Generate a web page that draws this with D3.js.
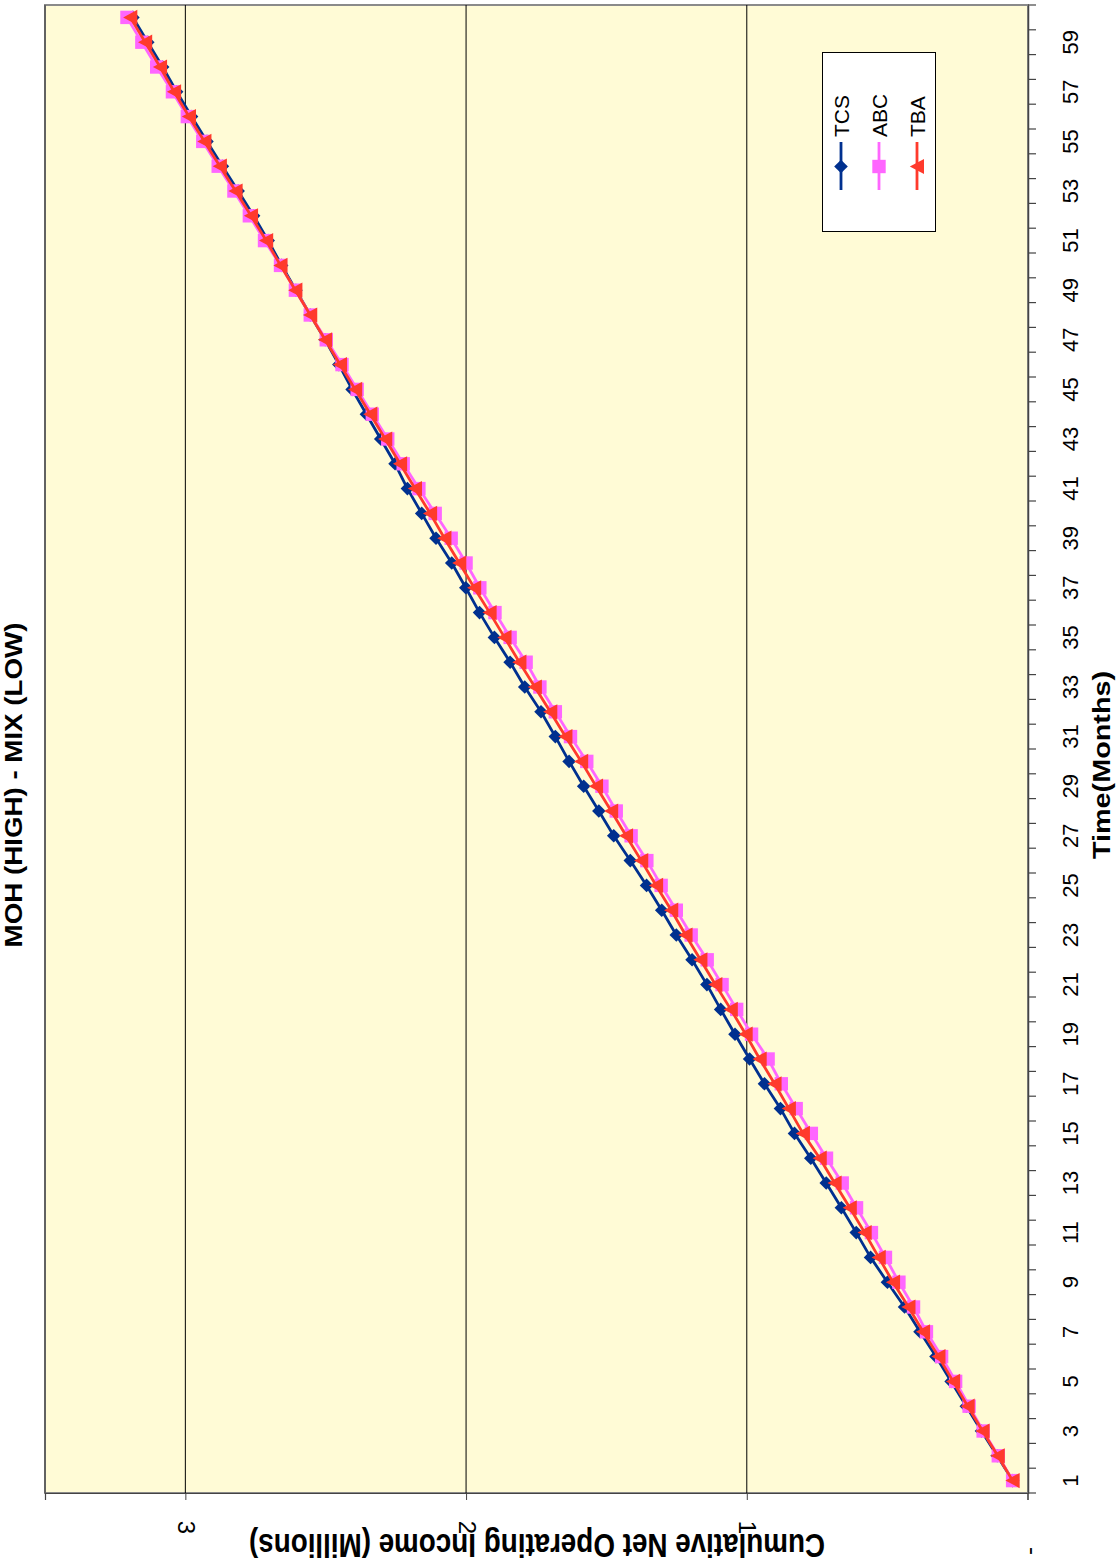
<!DOCTYPE html>
<html><head><meta charset="utf-8">
<script src="https://cdn.jsdelivr.net/npm/d3@7"></script>
<style>
body{margin:0;background:#fff;}
svg{display:block;}
text{font-family:"Liberation Sans", Arial, sans-serif; fill:#000;}
</style>
</head><body>
<svg id="chart" width="1120" height="1564"></svg>
<script>
// ---------------- data ----------------
const months = [1,2,3,4,5,6,7,8,9,10,11,12,13,14,15,16,17,18,19,20,
  21,22,23,24,25,26,27,28,29,30,31,32,33,34,35,36,37,38,39,40,
  41,42,43,44,45,46,47,48,49,50,51,52,53,54,55,56,57,58,59,60];

const tcs = [0.053,0.108,0.164,0.218,0.272,0.326,0.383,0.438,0.499,0.559,
  0.610,0.663,0.717,0.772,0.830,0.880,0.937,0.990,1.042,1.093,
  1.142,1.195,1.251,1.303,1.357,1.415,1.474,1.527,1.581,1.633,
  1.682,1.733,1.791,1.843,1.899,1.952,2.001,2.051,2.107,2.158,
  2.209,2.253,2.304,2.355,2.406,2.453,2.502,2.555,2.606,2.657,
  2.705,2.757,2.812,2.868,2.923,2.978,3.031,3.081,3.134,3.187];

const abc = [0.053,0.104,0.158,0.208,0.256,0.306,0.360,0.406,0.458,0.506,
  0.556,0.609,0.660,0.716,0.770,0.824,0.877,0.924,0.983,1.036,
  1.088,1.141,1.198,1.251,1.305,1.356,1.412,1.465,1.516,1.570,
  1.628,1.682,1.737,1.786,1.843,1.897,1.951,2.000,2.053,2.110,
  2.168,2.224,2.279,2.334,2.388,2.442,2.498,2.555,2.608,2.661,
  2.718,2.772,2.827,2.883,2.938,2.993,3.046,3.102,3.155,3.208];

const tba = [0.053,0.106,0.160,0.213,0.265,0.317,0.372,0.424,0.479,0.530,
  0.580,0.633,0.687,0.740,0.800,0.850,0.901,0.954,1.004,1.057,
  1.112,1.165,1.218,1.269,1.323,1.376,1.430,1.483,1.537,1.590,
  1.646,1.700,1.755,1.810,1.863,1.916,1.971,2.024,2.077,2.128,
  2.182,2.235,2.288,2.341,2.395,2.449,2.502,2.555,2.608,2.661,
  2.712,2.766,2.821,2.877,2.932,2.987,3.040,3.090,3.143,3.196];

const seriesNames = ["TCS", "ABC", "TBA"];
const seriesColors = ["#00308F", "#FF66FF", "#FF3A2C"];
const seriesShapes = ["diamond", "square", "triangle"];
const valueTicks = [0, 1, 2, 3];
const valueTickLabels = ["-", "1", "2", "3"];
const monthTickLabels = [1,3,5,7,9,11,13,15,17,19,21,23,25,27,29,31,33,35,37,39,41,43,45,47,49,51,53,55,57,59];
const chartTitle = "MOH (HIGH) - MIX (LOW)";
const xTitle = "Time(Months)";
const yTitle = "Cumulative Net Operating Income (Millions)";

// ---------------- layout ----------------
const svg = d3.select("#chart");
const P = {left: 45, right: 1028, top: 5, bottom: 1493};

// value axis runs horizontally (chart is rotated 90deg counter-clockwise)
const vScale = d3.scaleLinear().domain([0, 3.5]).range([1027.5, 45]);
const mScale = d3.scaleBand().domain(months).range([P.bottom, P.top]).padding(0);
const mc = m => mScale(m) + mScale.bandwidth() / 2;

svg.append("rect").attr("width", 1120).attr("height", 1564).attr("fill", "#fff");

// plot area
svg.append("rect")
  .attr("x", P.left).attr("y", P.top)
  .attr("width", P.right - P.left).attr("height", P.bottom - P.top)
  .attr("fill", "#FFFBD6").attr("stroke", "#8a8a8a").attr("stroke-width", 2);
svg.append("line").attr("x1", P.left).attr("x2", P.left).attr("y1", P.top).attr("y2", P.bottom)
  .attr("stroke", "#555").attr("stroke-width", 1.5);

// gridlines
svg.append("g").selectAll("line").data(valueTicks.filter(d => d > 0)).join("line")
  .attr("x1", d => vScale(d)).attr("x2", d => vScale(d))
  .attr("y1", P.top).attr("y2", P.bottom)
  .attr("stroke", "#000").attr("stroke-width", 1);

// category axis (right side)
const catAxis = d3.axisRight(mScale).tickValues(monthTickLabels).tickSize(0).tickPadding(0);
const gCat = svg.append("g").attr("transform", `translate(${P.right},0)`).call(catAxis);
gCat.select(".domain").attr("stroke", "#444").attr("stroke-width", 1.5);
gCat.selectAll(".tick text")
  .attr("x", null).attr("dy", null).attr("y", null)
  .attr("text-anchor", "middle")
  .attr("font-size", 22)
  .attr("font-family", "Liberation Sans, Arial, sans-serif")
  .attr("transform", "translate(50,0) rotate(-90)");
// tick marks between categories
const boundaries = months.map(m => mScale(m)).concat([P.bottom]);
svg.append("g").selectAll("line").data(boundaries).join("line")
  .attr("x1", P.right).attr("x2", P.right + 8)
  .attr("y1", d => d).attr("y2", d => d)
  .attr("stroke", "#444").attr("stroke-width", 1.2);

// value axis (bottom)
const valAxis = d3.axisBottom(vScale).tickValues(valueTicks)
  .tickFormat((d, i) => valueTickLabels[i]).tickSize(7).tickPadding(0);
const gVal = svg.append("g").attr("transform", `translate(0,${P.bottom})`).call(valAxis);
gVal.select(".domain").attr("stroke", "#444").attr("stroke-width", 1.2);
gVal.selectAll(".tick line").attr("stroke", "#444");
gVal.selectAll(".tick text")
  .attr("x", null).attr("dy", null).attr("y", null)
  .attr("text-anchor", "middle")
  .attr("font-size", 24)
  .attr("font-family", "Liberation Sans, Arial, sans-serif")
  .attr("transform", d => d === 0 ? "translate(-3,58) rotate(90)" : "translate(-8,34.5) rotate(90)");

// ---------------- series ----------------
const seriesData = [tcs, abc, tba];
function shapePath(shape) {
  if (shape === "diamond") return "M0,-6.8L6.8,0L0,6.8L-6.8,0Z";
  if (shape === "square") return "M-6.7,-6.7H6.7V6.7H-6.7Z";
  return "M-7.2,0L7,-7.6L7,7.6Z"; // triangle pointing "up" in rotated chart
}
const line = d3.line().x(d => vScale(d.v)).y(d => mc(d.m));
seriesData.forEach((vals, si) => {
  const pts = months.map((m, i) => ({m, v: vals[i]}));
  const g = svg.append("g");
  g.append("path").datum(pts).attr("d", line)
    .attr("fill", "none").attr("stroke", seriesColors[si]).attr("stroke-width", 2.8)
    .attr("stroke-linejoin", "round");
  g.selectAll("path.mk").data(pts).join("path").attr("class", "mk")
    .attr("d", shapePath(seriesShapes[si]))
    .attr("transform", d => `translate(${vScale(d.v)},${mc(d.m)})`)
    .attr("fill", seriesColors[si]);
});

// ---------------- titles ----------------
svg.append("text").text(chartTitle)
  .attr("text-anchor", "middle").attr("font-weight", "bold").attr("font-size", 23.5)
  .attr("transform", "translate(22,785) rotate(-90) scale(1.18,1)");

svg.append("text").text(xTitle)
  .attr("text-anchor", "middle").attr("font-weight", "bold").attr("font-size", 24)
  .attr("transform", "translate(1110,765) rotate(-90) scale(1.2,1)");

svg.append("text").text(yTitle)
  .attr("text-anchor", "middle").attr("font-weight", "bold").attr("font-size", 27.8)
  .attr("transform", "translate(537,1534) rotate(180) scale(1,1.19)");

// ---------------- legend ----------------
const lg = svg.append("g");
lg.append("rect").attr("x", 822.5).attr("y", 52.5).attr("width", 113).attr("height", 179)
  .attr("fill", "#fff").attr("stroke", "#000").attr("stroke-width", 1);
const legX = d3.scalePoint().domain(seriesNames).range([841, 917]);
seriesNames.forEach((name, i) => {
  const x = legX(name);
  lg.append("line").attr("x1", x).attr("x2", x).attr("y1", 142).attr("y2", 190)
    .attr("stroke", seriesColors[i]).attr("stroke-width", 2.8);
  lg.append("path").attr("d", shapePath(seriesShapes[i]))
    .attr("transform", `translate(${x},166.5)`).attr("fill", seriesColors[i]);
  lg.append("text").text(name).attr("font-size", 21)
    .attr("transform", `translate(${x + 7.5},137) rotate(-90)`);
});
</script>
</body></html>
